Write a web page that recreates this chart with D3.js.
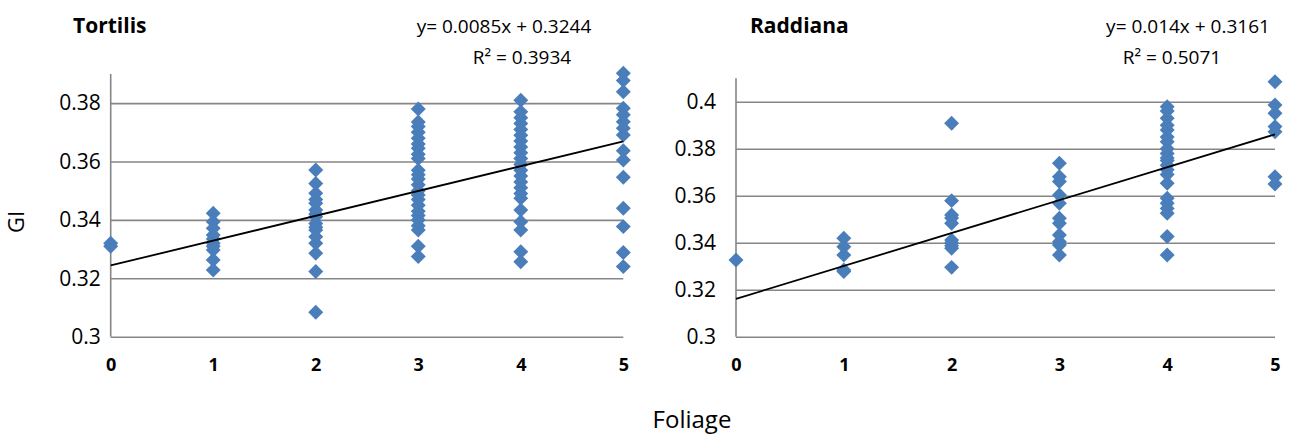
<!DOCTYPE html>
<html>
<head>
<meta charset="utf-8">
<script src="https://cdn.jsdelivr.net/npm/d3@7"></script>
<style>
  html, body { margin: 0; padding: 0; background: #fff; }
  text { font-family: "Open Sans", "Noto Sans", sans-serif; }
</style>
</head>
<body>
<svg id="mainsvg" width="1293" height="437"></svg>
<script>
// foliage classes on the x axis
const foliageLevels = [0, 1, 2, 3, 4, 5];

// GI readings for Tortilis, one list per foliage class
const tortilisGI = [
  [0.332, 0.331],
  [0.3423, 0.3394, 0.3371, 0.3348, 0.3335, 0.332, 0.331, 0.3297, 0.3263, 0.3228],
  [0.3571, 0.3525, 0.3491, 0.347, 0.3457, 0.3434, 0.342, 0.3411, 0.3388, 0.3375, 0.3365, 0.3342, 0.332, 0.3286, 0.3223, 0.3084],
  [0.378, 0.3735, 0.372, 0.37, 0.368, 0.366, 0.3645, 0.3625, 0.361, 0.357, 0.3555, 0.354, 0.352, 0.35, 0.3485, 0.347, 0.345, 0.343, 0.3415, 0.34, 0.338, 0.3365, 0.331, 0.3275],
  [0.381, 0.377, 0.375, 0.373, 0.371, 0.369, 0.367, 0.365, 0.363, 0.361, 0.359, 0.357, 0.355, 0.353, 0.351, 0.349, 0.3474, 0.3434, 0.3394, 0.3365, 0.3291, 0.3257],
  [0.3902, 0.3877, 0.3839, 0.3782, 0.376, 0.3736, 0.3714, 0.3691, 0.3637, 0.3605, 0.3546, 0.344, 0.3377, 0.3288, 0.324]
];

// GI readings for Raddiana
const raddianaGI = [
  [0.3326],
  [0.3419, 0.3383, 0.3348, 0.3284, 0.3277],
  [0.3908, 0.3579, 0.3518, 0.3505, 0.3483, 0.3411, 0.34, 0.3387, 0.3376, 0.3295],
  [0.3738, 0.3681, 0.366, 0.3603, 0.3568, 0.3504, 0.3483, 0.3433, 0.3404, 0.339, 0.3348],
  [0.3979, 0.396, 0.393, 0.39, 0.388, 0.385, 0.383, 0.38, 0.378, 0.376, 0.375, 0.373, 0.371, 0.369, 0.3653, 0.3589, 0.3568, 0.3546, 0.3525, 0.3426, 0.3348],
  [0.4085, 0.3986, 0.3951, 0.3894, 0.3872, 0.3681, 0.365]
];

// y ticks
const tortilisTicks = [0.3, 0.32, 0.34, 0.36, 0.38];
const raddianaTicks = [0.3, 0.32, 0.34, 0.36, 0.38, 0.4];
const tickLabel = d => String(+d.toFixed(2));

// linear trend [slope, intercept] and the labels shown
const tortilisTrend = [0.0085, 0.3244];
const raddianaTrend = [0.014, 0.3161];
const tortilisEq = ['y= 0.0085x + 0.3244', 'R² = 0.3934'];
const raddianaEq = ['y= 0.014x + 0.3161', 'R² = 0.5071'];

const svg = d3.select('#mainsvg');
const gridColor = '#868686';
const dotColor = '#4a7ebb';

function drawPanel(opt) {
  const x = d3.scaleLinear().domain([0, 5]).range([opt.left, opt.right]);
  const y = d3.scaleLinear().domain(opt.yDomain).range([opt.bottom, opt.top]);

  const g = svg.append('g');

  // horizontal grid + tick labels
  const yAxis = d3.axisLeft(y)
    .tickValues(opt.ticks)
    .tickFormat(tickLabel)
    .tickSize(-(opt.right - opt.left))
    .tickPadding(opt.labelGap);
  const ya = g.append('g').attr('transform', `translate(${opt.left},0)`).call(yAxis);
  ya.select('.domain').remove();
  ya.selectAll('.tick line').attr('stroke', gridColor).attr('stroke-width', 1.6);
  ya.selectAll('.tick text')
    .attr('font-size', '21px')
    .attr('fill', '#000');

  // vertical axis line
  g.append('line')
    .attr('x1', opt.left).attr('x2', opt.left)
    .attr('y1', y(opt.yDomain[0])).attr('y2', y(opt.yDomain[1]))
    .attr('stroke', gridColor).attr('stroke-width', 1.6);

  // x tick labels (bold)
  const xAxis = d3.axisBottom(x).tickValues(foliageLevels).tickFormat(d3.format('d'))
    .tickSize(0).tickPadding(22);
  const xa = g.append('g').attr('transform', `translate(0,${opt.bottom})`).call(xAxis);
  xa.select('.domain').remove();
  xa.selectAll('.tick text')
    .attr('font-size', '18px')
    .attr('font-weight', 'bold')
    .attr('fill', '#000');

  // points
  const pts = [];
  opt.data.forEach((vals, i) => vals.forEach(v => pts.push([foliageLevels[i], v])));
  const diamond = d3.symbol().type(d3.symbolSquare).size(112);
  g.append('g').selectAll('path').data(pts).join('path')
    .attr('d', diamond)
    .attr('transform', d => `translate(${x(d[0])},${y(d[1])}) rotate(45)`)
    .attr('fill', dotColor);

  // trend line
  const [m, b] = opt.trend;
  g.append('line')
    .attr('x1', x(0)).attr('y1', y(b))
    .attr('x2', x(5)).attr('y2', y(m * 5 + b))
    .attr('stroke', '#000').attr('stroke-width', 1.8);

  // title
  g.append('text')
    .attr('x', opt.titleX).attr('y', 33)
    .attr('font-size', '21px').attr('font-weight', 'bold')
    .text(opt.title);

  // equation
  g.append('text')
    .attr('x', opt.eqX[0]).attr('y', 33)
    .attr('text-anchor', 'middle')
    .attr('font-size', '19px')
    .text(opt.eq[0]);
  g.append('text')
    .attr('x', opt.eqX[1]).attr('y', 64)
    .attr('text-anchor', 'middle')
    .attr('font-size', '19px')
    .text(opt.eq[1]);
}

drawPanel({
  data: tortilisGI, ticks: tortilisTicks, trend: tortilisTrend, eq: tortilisEq,
  title: 'Tortilis', titleX: 73, eqX: [504, 522],
  left: 110.7, right: 623.3, top: 73.9, bottom: 336.7, yDomain: [0.3, 0.39], labelGap: 10
});

drawPanel({
  data: raddianaGI, ticks: raddianaTicks, trend: raddianaTrend, eq: raddianaEq,
  title: 'Raddiana', titleX: 750, eqX: [1188, 1172],
  left: 736, right: 1275, top: 78.2, bottom: 336.7, yDomain: [0.3, 0.41], labelGap: 20
});

// shared axis titles
svg.append('text')
  .attr('transform', 'translate(24,222) rotate(-90)')
  .attr('text-anchor', 'middle')
  .attr('font-size', '22px')
  .text('GI');

svg.append('text')
  .attr('x', 692).attr('y', 428)
  .attr('text-anchor', 'middle')
  .attr('font-size', '24px')
  .text('Foliage');
</script>
</body>
</html>
